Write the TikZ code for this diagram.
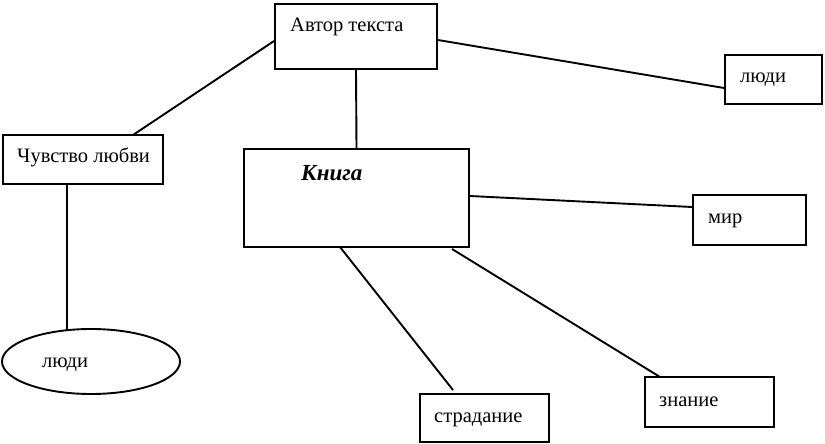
\documentclass[tikz,border=0pt]{standalone}
\usepackage{fontspec}
\setmainfont{Liberation Serif}
\usetikzlibrary{shapes.geometric}
\begin{document}
\begin{tikzpicture}[x=1pt,y=-1pt,
  box/.style={draw=black,line width=1.9pt,rectangle,inner sep=0pt},
  txt/.style={anchor=base west,inner sep=0pt,font=\fontsize{20.5}{24}\selectfont},
  link/.style={line width=1.9pt,black}]
\useasboundingbox (0,0) rectangle (825,444);
% boxes
\node[box,minimum width=162pt,minimum height=65pt] (avtor) at (356,36.5) {};
\node[box,minimum width=97pt,minimum height=49pt] (lyudi1) at (773.5,79.5) {};
\node[box,minimum width=160pt,minimum height=49pt] (chuv) at (83,159.5) {};
\node[box,minimum width=225pt,minimum height=98pt] (kniga) at (356.5,198) {};
\node[box,minimum width=113pt,minimum height=50pt] (mir) at (749.5,220) {};
\node[draw=black,line width=1.9pt,ellipse,minimum width=178pt,minimum height=65pt,inner sep=0pt] (lyudi2) at (91,361.5) {};
\node[box,minimum width=129pt,minimum height=48pt] (strad) at (484.5,418) {};
\node[box,minimum width=129pt,minimum height=50pt] (znan) at (709.5,402) {};
% texts
\node[txt] (tavtor) at (290,32) {Автор текста};
\node[txt] (tlyudi1) at (740,83) {люди};
\node[txt] (tchuv) at (17,162) {Чувство любви};
\node[txt,font=\fontsize{23}{26}\selectfont\bfseries\itshape] (tkniga) at (301,180) {Книга};
\node[txt] (tmir) at (708,223) {мир};
\node[txt] (tlyudi2) at (42,367) {люди};
\node[txt] (tstrad) at (434,422) {страдание};
\node[txt] (tznan) at (659,406) {знание};
% anchor points for connectors
\coordinate (s1) at (avtor.west |- 0,41);
\coordinate (e1) at (133,135);
\coordinate (s2) at (avtor.east |- 0,40);
\coordinate (e2) at (lyudi1.west |- 0,88);
\coordinate (s4) at (67,184);
\coordinate (e4) at (67,330);
\coordinate (s5) at (kniga.east |- 0,196);
\coordinate (e5) at (mir.west |- 0,207);
\coordinate (s6) at (340,247);
\coordinate (e6) at (453,390);
\coordinate (s7) at (452,249);
\coordinate (e7) at (660,377);
\draw[link] (s1) -- (e1);
\draw[link] (s2) -- (e2);
\draw[link] (avtor.south) -- (kniga.north);
\draw[link] (s4) -- (e4);
\draw[link] (s5) -- (e5);
\draw[link] (s6) -- (e6);
\draw[link] (s7) -- (e7);
\end{tikzpicture}
\end{document}
